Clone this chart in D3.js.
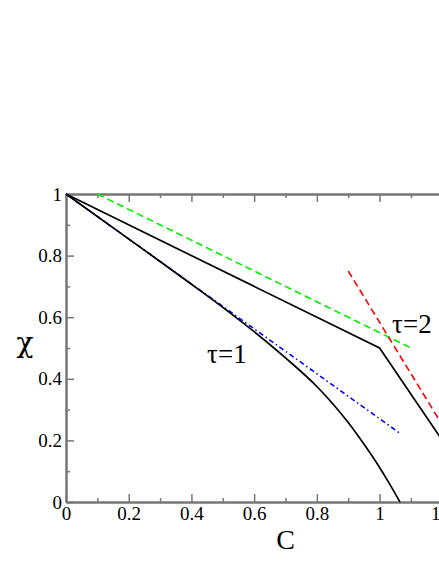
<!DOCTYPE html>
<html>
<head>
<meta charset="utf-8">
<script src="https://cdn.jsdelivr.net/npm/d3@7"></script>
<style>
  html, body { margin: 0; padding: 0; background: #fff; overflow: hidden; }
  svg { display: block; }
</style>
</head>
<body>
<svg id="chart" width="439" height="568"></svg>
<script>
// ---- data ----
const xMajorTicks = [0, 0.2, 0.4, 0.6, 0.8, 1, 1.2, 1.4];
const xMinorTicks = [0.1, 0.3, 0.5, 0.7, 0.9, 1.1, 1.3];
const yMajorTicks = [0, 0.2, 0.4, 0.6, 0.8, 1];
const yMinorTicks = [0.1, 0.3, 0.5, 0.7, 0.9];

// tau = 1 curve (black, solid)
const tau1C   = [0, 0.1, 0.2, 0.3, 0.4, 0.5, 0.6, 0.7, 0.8, 0.85, 0.9, 0.95, 1.0, 1.03, 1.065];
const tau1Chi = [1, 0.927, 0.854, 0.781, 0.707, 0.632, 0.553, 0.468, 0.375, 0.320, 0.258, 0.188, 0.112, 0.062, 0];
// tau = 2 curve (black, solid, kinked)
const tau2C   = [0, 1, 1.2];
const tau2Chi = [1, 0.5, 0.2];
// green dashed line
const greenC   = [0.1, 1.1];
const greenChi = [1, 0.5];
// red dashed line
const redC   = [0.9, 1.2];
const redChi = [0.75, 0.25];
// blue dash-dot line
const blueC   = [0, 1.065];
const blueChi = [1, 0.223];

const labels = [
  { text: "τ=1", c: 0.45, chi: 0.45 },
  { text: "τ=2", c: 1.04, chi: 0.55 }
];

const SERIF = "Liberation Serif";

// ---- layout ----
const svg = d3.select("#chart");
const x = d3.scaleLinear().domain([0, 1.4]).range([66, 505]);
const y = d3.scaleLinear().domain([0, 1]).range([502, 194]);
const fmt = d => String(+d.toFixed(1));

function styleAxis(g) {
  g.attr("font-family", SERIF).attr("font-size", 19);
  g.select(".domain").attr("stroke", "#777").attr("stroke-width", 2);
  g.selectAll(".tick line").attr("stroke", "#777").attr("stroke-width", 1.5);
  g.selectAll(".tick text").attr("font-family", SERIF).attr("font-size", 19).attr("fill", "#000");
}

// bottom axis (ticks pointing inward)
svg.append("g").attr("transform", `translate(0,${y(0)})`)
  .call(d3.axisBottom(x).tickValues(xMajorTicks).tickSizeInner(-8).tickSizeOuter(0).tickPadding(5).tickFormat(fmt))
  .call(styleAxis);
svg.append("g").attr("transform", `translate(0,${y(0)})`)
  .call(d3.axisBottom(x).tickValues(xMinorTicks).tickSizeInner(-4).tickSizeOuter(0).tickFormat(""))
  .call(styleAxis);
// top axis
svg.append("g").attr("transform", `translate(0,${y(1)})`)
  .call(d3.axisTop(x).tickValues(xMajorTicks).tickSizeInner(-8).tickSizeOuter(0).tickFormat(""))
  .call(styleAxis);
svg.append("g").attr("transform", `translate(0,${y(1)})`)
  .call(d3.axisTop(x).tickValues(xMinorTicks).tickSizeInner(-4).tickSizeOuter(0).tickFormat(""))
  .call(styleAxis);
// left axis
svg.append("g").attr("transform", `translate(${x(0)},0)`)
  .call(d3.axisLeft(y).tickValues(yMajorTicks).tickSizeInner(-8).tickSizeOuter(0).tickPadding(4).tickFormat(fmt))
  .call(styleAxis);
svg.append("g").attr("transform", `translate(${x(0)},0)`)
  .call(d3.axisLeft(y).tickValues(yMinorTicks).tickSizeInner(-4).tickSizeOuter(0).tickFormat(""))
  .call(styleAxis);
// right axis (beyond the window edge)
svg.append("g").attr("transform", `translate(${x(1.4)},0)`)
  .call(d3.axisRight(y).tickValues(yMajorTicks).tickSizeInner(-8).tickSizeOuter(0).tickFormat(""))
  .call(styleAxis);

// ---- series ----
const line = d3.line().x(d => x(d[0])).y(d => y(d[1]));
const smooth = d3.line().x(d => x(d[0])).y(d => y(d[1])).curve(d3.curveMonotoneX);
const zip = (a, b) => a.map((v, i) => [v, b[i]]);

const series = [
  { pts: zip(blueC, blueChi),   color: "#0000ff", dash: "5,3,1.5,3", w: 1.6, gen: line },
  { pts: zip(greenC, greenChi), color: "#00ee00", dash: "7,4",       w: 1.6, gen: line },
  { pts: zip(redC, redChi),     color: "#ff0000", dash: "7,4",       w: 1.6, gen: line },
  { pts: zip(tau1C, tau1Chi),   color: "#000000", dash: null,        w: 1.7, gen: smooth },
  { pts: zip(tau2C, tau2Chi),   color: "#000000", dash: null,        w: 1.7, gen: line }
];
svg.append("g").selectAll("path").data(series).join("path")
  .attr("d", d => d.gen(d.pts))
  .attr("fill", "none")
  .attr("stroke", d => d.color)
  .attr("stroke-width", d => d.w)
  .attr("stroke-dasharray", d => d.dash);

// ---- annotations ----
svg.append("g").selectAll("text").data(labels).join("text")
  .attr("x", d => x(d.c)).attr("y", d => y(d.chi))
  .attr("font-family", SERIF).attr("font-size", 27)
  .text(d => d.text);

// axis titles
svg.append("text").attr("x", 25).attr("y", 352).attr("text-anchor", "middle")
  .attr("font-family", "DejaVu Serif").attr("font-size", 28)
  .text("χ");
svg.append("text").attr("x", (x(0) + x(1.4)) / 2).attr("y", 549).attr("text-anchor", "middle")
  .attr("font-family", SERIF).attr("font-size", 28)
  .text("C");
</script>
</body>
</html>
